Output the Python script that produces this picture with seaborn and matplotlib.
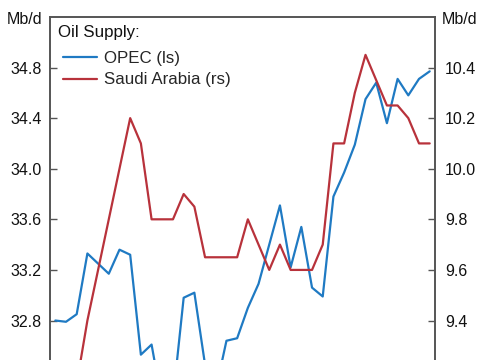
import numpy as np
import pandas as pd
import matplotlib
matplotlib.use("Agg")
import matplotlib.pyplot as plt
import seaborn as sns

months = list(range(36))
opec = [32.80, 32.79, 32.85, 33.33, 33.25, 33.17, 33.36, 33.32, 32.53, 32.61,
        32.14, 32.18, 32.98, 33.02, 32.45, 32.25, 32.64, 32.66, 32.90, 33.09,
        33.40, 33.71, 33.22, 33.54, 33.06, 32.99, 33.78, 33.97, 34.19, 34.55,
        34.68, 34.36, 34.71, 34.58, 34.71, 34.77]
saudi = [9.05, 9.00, 9.15, 9.40, 9.60, 9.80, 10.00, 10.20, 10.10, 9.80,
         9.80, 9.80, 9.90, 9.85, 9.65, 9.65, 9.65, 9.65, 9.80, 9.70,
         9.60, 9.70, 9.60, 9.60, 9.60, 9.70, 10.10, 10.10, 10.30, 10.45,
         10.35, 10.25, 10.25, 10.20, 10.10, 10.10]
left_ticks = [32.8, 33.2, 33.6, 34.0, 34.4, 34.8]
right_ticks = [9.4, 9.6, 9.8, 10.0, 10.2, 10.4]
unit = "Mb/d"
legend_title = "Oil Supply:"
labels = ["OPEC (ls)", "Saudi Arabia (rs)"]

df = pd.DataFrame({"month": months, "opec": opec, "saudi": saudi})

sns.set_theme(style="white")
plt.rcParams["font.family"] = ["Liberation Sans", "DejaVu Sans"]

blue = "#1f7ac3"
red = "#b8323b"
spine_col = "#555555"
txt_col = "#111111"

fig = plt.figure(figsize=(4.85, 3.6), dpi=100)
ax = fig.add_axes([0.103, -0.312, 0.794, 1.265])
ax2 = ax.twinx()

sns.lineplot(data=df, x="month", y="opec", ax=ax, color=blue, linewidth=1.6, label=labels[0], legend=False)
sns.lineplot(data=df, x="month", y="saudi", ax=ax2, color=red, linewidth=1.6, label=labels[1], legend=False)

ax.set_xlim(-0.5, 35.5)
ax.set_ylim(31.6, 35.2)
ax2.set_ylim(8.8, 10.6)
ax.set_yticks(left_ticks)
ax.set_yticklabels([f"{v:.1f}" for v in left_ticks])
ax2.set_yticks(right_ticks)
ax2.set_yticklabels([f"{v:.1f}" for v in right_ticks])
ax.set_xticks([])
for a in (ax, ax2):
    a.set_xlabel("")
    a.set_ylabel("")
    for s in a.spines.values():
        s.set_color(spine_col)
        s.set_linewidth(1.2)
ax.tick_params(axis="y", direction="in", length=5, width=1.0, color=spine_col,
               labelsize=11.5, pad=6, labelcolor=txt_col, left=True)
ax2.tick_params(axis="y", direction="in", length=5, width=1.0, color=spine_col,
                labelsize=11.5, pad=7, labelcolor=txt_col, right=True)

h1, l1 = ax.get_legend_handles_labels()
h2, l2 = ax2.get_legend_handles_labels()
leg = ax2.legend(h1 + h2, l1 + l2, loc="upper left",
                 bbox_to_anchor=(63 / 485, 1 - 51 / 360), bbox_transform=fig.transFigure,
                 frameon=False, fontsize=12.2,
                 handlelength=2.0, handletextpad=0.42, labelspacing=0.38,
                 borderaxespad=0.0, borderpad=0.0)

fig.text(58 / 485, 1 - 32 / 360, legend_title, ha="left", va="center", fontsize=12.2, color=txt_col)
fig.text(42 / 485, 1 - 19 / 360, unit, ha="right", va="center", fontsize=11.5, color=txt_col)
fig.text(442 / 485, 1 - 19 / 360, unit, ha="left", va="center", fontsize=11.5, color=txt_col)

fig.savefig("out.png", dpi=100)
